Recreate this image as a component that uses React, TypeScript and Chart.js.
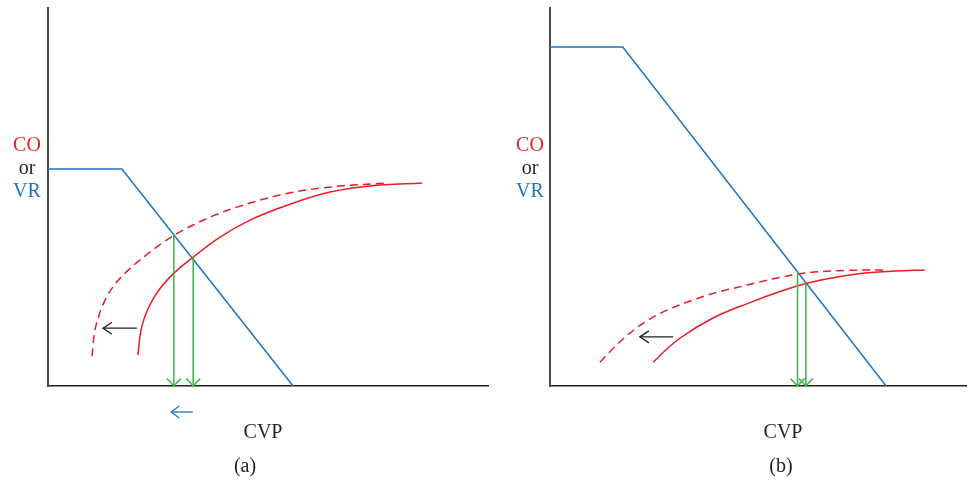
import React, { useEffect, useRef } from 'react';
import { Chart, registerables } from 'chart.js';

Chart.register(...registerables);

// ---------- data (units: 0..100 on both axes) ----------
// Panel (a)
const vrA: number[][] = [[0, 57.4], [16.8, 57.4], [55.7, 0]];
const coA: number[][] = [
  [20.45, 8.2], [20.9, 13.2], [22.0, 18.3], [24.3, 23.8], [27.7, 28.8], [33.0, 34.1],
  [39.1, 39.4], [45.9, 43.9], [55.0, 48.1], [64.1, 51.3], [73.2, 52.9], [85.0, 53.7],
];
const coShiftA: number[][] = [
  [10.0, 7.9], [10.5, 13.5], [11.4, 18.0], [13.0, 22.8], [15.2, 26.9], [18.2, 30.6],
  [22.5, 34.8], [28.4, 39.7], [37.5, 45.0], [45.9, 48.4], [55.0, 51.1], [66.4, 52.9], [77.3, 53.7],
];
const dropsA: number[][] = [[28.6, 40.3], [33.0, 34.1]]; // [x, top y]
const shiftA: number[] = [20.2, 12.5, 15.3]; // [from x, to x, y]
const cvpShiftA: number[] = [32.9, 28.0, -6.9];

// Panel (b)
const vrB: number[][] = [[0, 89.7], [17.5, 89.7], [80.8, 0]];
const coB: number[][] = [
  [24.8, 6.3], [28.1, 9.8], [31.3, 12.7], [39.2, 18.0], [47.4, 21.8], [55.3, 25.0],
  [61.8, 27.2], [68.5, 28.7], [75.2, 29.8], [82.9, 30.4], [90.1, 30.7],
];
const coShiftB: number[][] = [
  [12.0, 6.3], [15.6, 10.4], [19.2, 14.0], [22.8, 16.9], [27.2, 19.6], [33.7, 22.5],
  [39.2, 24.5], [47.4, 26.7], [53.4, 28.3], [59.4, 29.6], [65.4, 30.3], [71.4, 30.6], [80.5, 30.7],
];
const dropsB: number[][] = [[59.5, 30.2], [61.5, 27.5]];
const shiftB: number[] = [29.6, 21.6, 13.0];

const yLabelParts = ['CO', 'or', 'VR'];
const xLabel = 'CVP';
const captions = ['(a)', '(b)'];

// ---------- styles ----------
const RED = '#ec1c24';
const BLUE = '#1c75bc';
const GREEN = '#3ab54a';
const INK = '#231f20';
const FONT = '20px "Liberation Serif", "Times New Roman", serif';

const toPts = (arr: number[][]) => arr.map(([x, y]) => ({ x, y }));

type PanelProps = {
  left: number;
  width: number;
  pad: { left: number; right: number; top: number; bottom: number };
  vr: number[][];
  co: number[][];
  coShift: number[][];
  drops: number[][];
  shift: number[];
  cvpShift?: number[];
  labelX: number;
  cvpX: number;
  captionX: number;
  caption: string;
};

function drawArrow(ctx: CanvasRenderingContext2D, x1: number, y1: number, x2: number, y2: number, color: string, len: number, spread: number, lw: number) {
  const ang = Math.atan2(y2 - y1, x2 - x1);
  ctx.save();
  ctx.strokeStyle = color;
  ctx.lineWidth = lw;
  ctx.beginPath();
  ctx.moveTo(x1, y1);
  ctx.lineTo(x2, y2);
  ctx.stroke();
  const bx = x2 - Math.cos(ang) * len;
  const by = y2 - Math.sin(ang) * len;
  const px = -Math.sin(ang) * spread;
  const py = Math.cos(ang) * spread;
  ctx.beginPath();
  ctx.moveTo(bx + px, by + py);
  ctx.lineTo(x2, y2);
  ctx.lineTo(bx - px, by - py);
  ctx.stroke();
  ctx.restore();
}

function Panel(props: PanelProps) {
  const ref = useRef<HTMLCanvasElement>(null);
  useEffect(() => {
    const canvas = ref.current!;
    const overlay = {
      id: 'overlay',
      afterDatasetsDraw(chart: any) {
        const { ctx, scales } = chart;
        const xs = scales.x, ys = scales.y;
        props.drops.forEach(([x, y]) => {
          drawArrow(ctx, xs.getPixelForValue(x), ys.getPixelForValue(y), xs.getPixelForValue(x), ys.getPixelForValue(0), GREEN, 7.5, 7, 1.5);
        });
        const [sx1, sx2, sy] = props.shift;
        drawArrow(ctx, xs.getPixelForValue(sx1), ys.getPixelForValue(sy), xs.getPixelForValue(sx2), ys.getPixelForValue(sy), INK, 9, 6, 1.3);
        if (props.cvpShift) {
          const [cx1, cx2, cy] = props.cvpShift;
          drawArrow(ctx, xs.getPixelForValue(cx1), ys.getPixelForValue(cy), xs.getPixelForValue(cx2), ys.getPixelForValue(cy), BLUE, 8, 6, 1.3);
        }
      },
      afterDraw(chart: any) {
        const { ctx } = chart;
        ctx.save();
        ctx.font = FONT;
        ctx.textAlign = 'center';
        ctx.textBaseline = 'alphabetic';
        const colors = [RED, INK, BLUE];
        const baselines = [151, 174, 197];
        yLabelParts.forEach((t, i) => {
          ctx.fillStyle = colors[i];
          ctx.fillText(t, props.labelX, baselines[i]);
        });
        ctx.fillStyle = INK;
        ctx.fillText(xLabel, props.cvpX, 438);
        ctx.fillText(props.caption, props.captionX, 472);
        ctx.restore();
      },
    };
    const lineBase = { pointRadius: 0, borderWidth: 1.5, fill: false };
    const chart = new Chart(canvas, {
      type: 'line',
      data: {
        datasets: [
          { ...lineBase, data: toPts(props.coShift), borderColor: RED, borderDash: [8, 5], cubicInterpolationMode: 'monotone' },
          { ...lineBase, data: toPts(props.co), borderColor: RED, cubicInterpolationMode: 'monotone' },
          { ...lineBase, data: toPts(props.vr), borderColor: BLUE, tension: 0 },
        ] as any,
      },
      options: {
        animation: false,
        responsive: false,
        maintainAspectRatio: false,
        layout: { padding: props.pad },
        plugins: { legend: { display: false }, tooltip: { enabled: false }, title: { display: false } },
        scales: {
          x: {
            type: 'linear', min: 0, max: 100,
            ticks: { display: false },
            grid: { display: false, drawTicks: false },
            border: { display: true, color: INK, width: 1.5 },
          },
          y: {
            type: 'linear', min: 0, max: 100,
            ticks: { display: false },
            grid: { display: false, drawTicks: false },
            border: { display: true, color: '#4a4a4a', width: 2 },
          },
        },
      } as any,
      plugins: [overlay],
    });
    return () => chart.destroy();
  }, []);
  return (
    <canvas
      ref={ref}
      width={props.width}
      height={482}
      style={{ position: 'absolute', left: props.left, top: 0, width: props.width, height: 482 }}
    />
  );
}

export default function App() {
  return (
    <div style={{ position: 'absolute', left: 0, top: 0, width: 976, height: 482, background: '#fff', overflow: 'hidden' }}>
      <Panel
        left={0} width={500}
        pad={{ left: 48, right: 12, top: 8, bottom: 96 }}
        vr={vrA} co={coA} coShift={coShiftA} drops={dropsA} shift={shiftA} cvpShift={cvpShiftA}
        labelX={27} cvpX={263} captionX={245} caption={captions[0]}
      />
      <Panel
        left={500} width={476}
        pad={{ left: 50, right: 10, top: 8, bottom: 96 }}
        vr={vrB} co={coB} coShift={coShiftB} drops={dropsB} shift={shiftB}
        labelX={30} cvpX={283} captionX={281} caption={captions[1]}
      />
    </div>
  );
}
